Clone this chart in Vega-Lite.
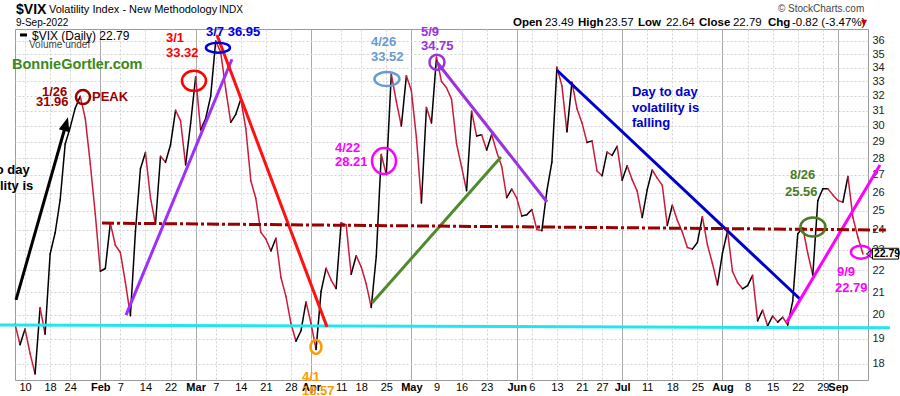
{
  "$schema": "https://vega.github.io/schema/vega-lite/v6.json",
  "width": 853,
  "height": 351,
  "autosize": {"type": "none"},
  "padding": {"left": 15, "top": 29, "right": 32, "bottom": 16},
  "background": "white",
  "config": {
    "view": {"stroke": "#9a9a9a", "strokeWidth": 1},
    "text": {"font": "Liberation Sans"},
    "axis": {"labelFont": "Liberation Sans"}
  },
  "datasets": {
    "vix": [
      {"t":0,"v":19.61},{"t":1,"v":18.76},{"t":2,"v":19.40},{"t":3,"v":18.41},{"t":4,"v":17.62},{"t":5,"v":20.31},{"t":6,"v":19.19},{"t":7,"v":22.79},{"t":8,"v":23.85},{"t":9,"v":25.59},
      {"t":10,"v":28.85},{"t":11,"v":29.90},{"t":12,"v":31.16},{"t":13,"v":31.96},{"t":14,"v":30.49},{"t":15,"v":27.66},{"t":16,"v":24.83},{"t":17,"v":21.96},{"t":18,"v":22.09},{"t":19,"v":24.35},
      {"t":20,"v":23.22},{"t":21,"v":22.86},{"t":22,"v":21.44},{"t":23,"v":19.96},{"t":24,"v":23.91},{"t":25,"v":27.36},{"t":26,"v":28.33},{"t":27,"v":25.70},{"t":28,"v":24.29},{"t":29,"v":28.11},
      {"t":30,"v":27.75},{"t":31,"v":28.81},{"t":32,"v":31.02},{"t":33,"v":30.32},{"t":34,"v":27.59},{"t":35,"v":30.15},{"t":36,"v":33.32},{"t":37,"v":29.74},{"t":38,"v":30.48},{"t":39,"v":31.98},
      {"t":40,"v":36.0},{"t":41,"v":35.13},{"t":42,"v":32.45},{"t":43,"v":30.23},{"t":44,"v":30.75},{"t":45,"v":31.77},{"t":46,"v":29.83},{"t":47,"v":26.67},{"t":48,"v":25.67},{"t":49,"v":23.87},
      {"t":50,"v":23.53},{"t":51,"v":22.94},{"t":52,"v":23.57},{"t":53,"v":21.67},{"t":54,"v":20.81},{"t":55,"v":19.63},{"t":56,"v":18.90},{"t":57,"v":19.33},{"t":58,"v":20.56},{"t":59,"v":19.63},
      {"t":60,"v":18.57},{"t":61,"v":21.03},{"t":62,"v":22.10},{"t":63,"v":21.55},{"t":64,"v":21.16},{"t":65,"v":24.37},{"t":66,"v":24.26},{"t":67,"v":21.82},{"t":68,"v":22.70},{"t":69,"v":22.17},
      {"t":70,"v":21.37},{"t":71,"v":20.32},{"t":72,"v":22.68},{"t":73,"v":28.21},{"t":74,"v":27.02},{"t":75,"v":33.52},{"t":76,"v":31.60},{"t":77,"v":29.99},{"t":78,"v":33.40},{"t":79,"v":32.34},
      {"t":80,"v":29.25},{"t":81,"v":25.42},{"t":82,"v":31.20},{"t":83,"v":30.19},{"t":84,"v":34.75},{"t":85,"v":32.99},{"t":86,"v":32.56},{"t":87,"v":31.77},{"t":88,"v":28.87},{"t":89,"v":27.47},
      {"t":90,"v":26.10},{"t":91,"v":30.96},{"t":92,"v":29.35},{"t":93,"v":29.43},{"t":94,"v":28.48},{"t":95,"v":29.45},{"t":96,"v":28.37},{"t":97,"v":27.50},{"t":98,"v":25.72},{"t":99,"v":26.19},
      {"t":100,"v":25.69},{"t":101,"v":24.72},{"t":102,"v":24.79},{"t":103,"v":25.07},{"t":104,"v":24.02},{"t":105,"v":23.96},{"t":106,"v":26.09},{"t":107,"v":27.75},{"t":108,"v":34.02},{"t":109,"v":32.69},
      {"t":110,"v":29.62},{"t":111,"v":32.95},{"t":112,"v":31.13},{"t":113,"v":30.19},{"t":114,"v":28.95},{"t":115,"v":29.05},{"t":116,"v":27.23},{"t":117,"v":26.95},{"t":118,"v":28.36},{"t":119,"v":28.16},
      {"t":120,"v":28.71},{"t":121,"v":26.70},{"t":122,"v":27.54},{"t":123,"v":26.73},{"t":124,"v":26.08},{"t":125,"v":24.64},{"t":126,"v":26.17},{"t":127,"v":27.29},{"t":128,"v":26.82},{"t":129,"v":26.40},
      {"t":130,"v":24.23},{"t":131,"v":25.30},{"t":132,"v":24.50},{"t":133,"v":23.88},{"t":134,"v":23.11},{"t":135,"v":23.03},{"t":136,"v":23.36},{"t":137,"v":24.69},{"t":138,"v":23.24},{"t":139,"v":22.33},
      {"t":140,"v":21.33},{"t":141,"v":22.84},{"t":142,"v":23.93},{"t":143,"v":21.95},{"t":144,"v":21.44},{"t":145,"v":21.15},{"t":146,"v":21.29},{"t":147,"v":21.77},{"t":148,"v":19.74},{"t":149,"v":20.20},
      {"t":150,"v":19.53},{"t":151,"v":19.95},{"t":152,"v":19.69},{"t":153,"v":19.90},{"t":154,"v":19.56},{"t":155,"v":20.60},{"t":156,"v":23.80},{"t":157,"v":24.11},{"t":158,"v":22.82},{"t":159,"v":21.78},
      {"t":160,"v":25.56},{"t":161,"v":26.21},{"t":162,"v":26.21},{"t":163,"v":25.87},{"t":164,"v":25.56},{"t":165,"v":25.47},{"t":166,"v":26.91},{"t":167,"v":24.64},{"t":168,"v":23.61},{"t":169,"v":22.79}
    ],
    "lines": [
      {"k":"support","t":-2.99,"v":19.57,"t2":174.37,"v2":19.45},
      {"k":"rise","t":0.2,"v":20.65,"t2":10.06,"v2":29.99},
      {"k":"purple","t":22.12,"v":19.99,"t2":43.24,"v2":34.61},
      {"k":"redline","t":40.26,"v":36.46,"t2":62.18,"v2":19.49},
      {"k":"green","t":71.14,"v":20.51,"t2":96.85,"v2":28.06},
      {"k":"may9","t":84.10,"v":34.39,"t2":106.02,"v2":25.48},
      {"k":"fall","t":108.01,"v":33.80,"t2":156.44,"v2":20.69},
      {"k":"sep9","t":153.85,"v":19.70,"t2":172.38,"v2":27.58},
      {"k":"rise","t":1.0,"v":36.46,"t2":2.39,"v2":36.46}
    ],
    "resist": [
      {"k":"resist","t":17.34,"v":24.35,"t2":173.57,"v2":23.99}
    ],
    "rings": [
      {"k":"jan26","t":13.55,"v":31.91},
      {"k":"mar1","t":35.67,"v":33.04},
      {"k":"mar7","t":40.45,"v":35.48},
      {"k":"apr1","t":59.98,"v":18.67},
      {"k":"apr22","t":73.54,"v":27.82},
      {"k":"apr26","t":74.13,"v":33.17},
      {"k":"may9","t":84.10,"v":34.39},
      {"k":"aug26","t":159.03,"v":24.15},
      {"k":"sep9","t":168.59,"v":22.88}
    ],
    "heads": [{"k":"rise","t":10.06,"v":29.99}],
    "marker": [{"t":170.28,"v":22.79}],
    "tag": [{"t":170.9,"t2":176.1,"v":22.54,"v2":23.07}],
    "notes": [
      {"k":"jan26","t":5.38,"v":32.29,"txt":"1/26"},
      {"k":"jan26","t":4.18,"v":31.57,"txt":"31.96"},
      {"k":"jan26","t":15.34,"v":31.91,"txt":"PEAK"},
      {"k":"mar1","t":30.09,"v":36.21,"txt":"3/1"},
      {"k":"mar1","t":30.09,"v":35.06,"txt":"33.32"},
      {"k":"mar7","t":38.06,"v":36.72,"txt":"3/7 36.95"},
      {"k":"apr26","t":70.94,"v":35.90,"txt":"4/26"},
      {"k":"apr26","t":70.94,"v":34.80,"txt":"33.52"},
      {"k":"may9","t":80.91,"v":36.72,"txt":"5/9"},
      {"k":"may9","t":80.91,"v":35.63,"txt":"34.75"},
      {"k":"apr22","t":63.77,"v":28.63,"txt":"4/22"},
      {"k":"apr22","t":63.77,"v":27.76,"txt":"28.21"},
      {"k":"fall","t":122.96,"v":32.25,"txt":"Day to day"},
      {"k":"fall","t":122.96,"v":31.20,"txt":"volatility is"},
      {"k":"fall","t":122.96,"v":30.21,"txt":"falling"},
      {"k":"aug26","t":154.44,"v":26.99,"txt":"8/26"},
      {"k":"aug26","t":153.45,"v":26.03,"txt":"25.56"},
      {"k":"sep9","t":163.81,"v":21.93,"txt":"9/9"},
      {"k":"sep9","t":163.41,"v":21.19,"txt":"22.79"},
      {"k":"apr1","t":57.19,"v":17.51,"txt":"4/1"},
      {"k":"apr1","t":57.19,"v":16.99,"txt":"18.57"},
      {"k":"rise","t":-10.16,"v":27.28,"txt":"Day to day"},
      {"k":"rise","t":-9.76,"v":26.37,"txt":"volatility is"}
    ],
    "hdr": [
      {"role":"sym","t":0.2,"v":38.49,"txt":"$VIX"},
      {"role":"name","t":6.78,"v":38.47,"txt":"Volatility Index - New Methodology"},
      {"role":"exch","t":40.65,"v":38.45,"txt":"INDX"},
      {"role":"date","t":0.2,"v":37.39,"txt":"9-Sep-2022"},
      {"role":"copy","t":152.05,"v":38.53,"txt":"© StockCharts.com"},
      {"role":"lbl","t":99.24,"v":37.43,"txt":"Open"},
      {"role":"num","t":105.62,"v":37.43,"txt":"23.49"},
      {"role":"lbl","t":112.20,"v":37.43,"txt":"High"},
      {"role":"num","t":117.58,"v":37.43,"txt":"23.57"},
      {"role":"lbl","t":124.15,"v":37.43,"txt":"Low"},
      {"role":"num","t":129.73,"v":37.43,"txt":"22.64"},
      {"role":"lbl","t":136.31,"v":37.43,"txt":"Close"},
      {"role":"num","t":143.08,"v":37.43,"txt":"22.79"},
      {"role":"lbl","t":150.06,"v":37.43,"txt":"Chg"},
      {"role":"num","t":154.84,"v":37.43,"txt":"-0.82 (-3.47%)"},
      {"role":"tri","t":168.6,"v":37.43,"txt":"▼"},
      {"role":"legend","t":3.39,"v":36.41,"txt":"$VIX (Daily) 22.79"},
      {"role":"vol","t":2.79,"v":35.67,"txt":"Volume undef"},
      {"role":"brand","t":-0.60,"v":34.21,"txt":"BonnieGortler.com"},
      {"role":"tag","t":171.18,"v":22.79,"txt":"22.79"}
    ]
  },
  "encoding": {
    "x": {
      "field": "t", "type": "quantitative",
      "scale": {"domain": [0, 170], "nice": false, "zero": false},
      "axis": {
        "title": null,
        "values": [2,7,11,17,21,26,31,36,40,45,50,55,59,65,69,74,79,84,89,94,100,103,108,113,117,121,126,131,136,141,146,151,156,161,164],
        "labelExpr": "['10','18','24','Feb','7','14','22','Mar','7','14','21','28','Apr','11','18','25','May','9','16','23','Jun','6','13','21','27','Jul','11','18','25','Aug','8','15','22','29','Sep'][indexof([2,7,11,17,21,26,31,36,40,45,50,55,59,65,69,74,79,84,89,94,100,103,108,113,117,121,126,131,136,141,146,151,156,161,164], datum.value)]",
        "labelFontWeight": {"condition": {"test": "indexof([17,36,59,79,100,121,141,164], datum.value) >= 0", "value": "bold"}, "value": "normal"},
        "gridColor": {"condition": {"test": "indexof([17,36,59,79,100,121,141,164], datum.value) >= 0", "value": "#aaaaaa"}, "value": "#d2d2d2"},
        "gridDash": {"condition": {"test": "indexof([17,36,59,79,100,121,141,164], datum.value) >= 0", "value": []}, "value": [2, 2]},
        "grid": true, "ticks": false, "domain": false,
        "labelFontSize": 11, "labelColor": "#000000", "labelPadding": 1,
        "labelOverlap": false, "labelFlush": false, "labelBound": false
      }
    },
    "y": {
      "field": "v", "type": "quantitative",
      "scale": {"type": "log", "domain": [17.39, 36.93], "nice": false},
      "axis": {
        "title": null, "orient": "right",
        "values": [18,19,20,21,22,23,24,25,26,27,28,29,30,31,32,33,34,35,36],
        "grid": true, "gridColor": "#d2d2d2", "gridDash": [2, 2],
        "ticks": false, "domain": false,
        "labelFontSize": 11, "labelColor": "#222222", "labelPadding": 4,
        "labelOverlap": false, "labelFlush": false, "labelBound": false
      }
    }
  },
  "layer": [
    {
      "data": {"name": "vix"},
      "transform": [
        {"window": [{"op": "lead", "field": "t", "as": "t2"}, {"op": "lead", "field": "v", "as": "v2"}], "sort": [{"field": "t"}]},
        {"filter": "datum.t2 != null"}
      ],
      "mark": {"type": "rule", "strokeWidth": 1.5, "strokeCap": "round"},
      "encoding": {
        "x2": {"field": "t2"},
        "y2": {"field": "v2"},
        "color": {"condition": {"test": "datum.v2 >= datum.v", "value": "#000000"}, "value": "#cc1a3a"}
      }
    },
    {
      "data": {"name": "lines"},
      "mark": {"type": "rule", "strokeWidth": 3, "clip": false},
      "encoding": {
        "x2": {"field": "t2"},
        "y2": {"field": "v2"},
        "color": {"field": "k", "type": "nominal", "legend": null,
          "scale": {"domain": ["jan26","mar1","mar7","apr1","apr22","apr26","may9","aug26","sep9","fall","rise","support","resist","purple","green","redline"],
                    "range": ["#990000","#ff0000","#0000dd","#ff9900","#ff00ff","#6a9bd0","#9a32e0","#4a7c23","#ff00ff","#0000cc","#000000","#22e6ee","#990000","#9b30ff","#4f8a2c","#ff1111"]}}
      }
    },
    {
      "data": {"name": "resist"},
      "mark": {"type": "rule", "strokeWidth": 3, "strokeDash": [12, 3, 3, 3], "clip": false},
      "encoding": {
        "x2": {"field": "t2"},
        "y2": {"field": "v2"},
        "color": {"field": "k", "type": "nominal", "legend": null,
          "scale": {"domain": ["jan26","mar1","mar7","apr1","apr22","apr26","may9","aug26","sep9","fall","rise","support","resist","purple","green","redline"],
                    "range": ["#990000","#ff0000","#0000dd","#ff9900","#ff00ff","#6a9bd0","#9a32e0","#4a7c23","#ff00ff","#0000cc","#000000","#22e6ee","#990000","#9b30ff","#4f8a2c","#ff1111"]}}
      }
    },
    {
      "data": {"name": "heads"},
      "mark": {"type": "point", "filled": true, "shape": "M0,-9L5.5,5L-5.5,5Z", "size": 4, "angle": 16, "color": "#000000", "opacity": 1, "clip": false},
      "encoding": {}
    },
    {
      "data": {"name": "rings"},
      "mark": {"type": "point", "filled": false, "size": 4, "strokeWidth": 2.5, "opacity": 1, "clip": false},
      "encoding": {
        "shape": {"field": "k", "type": "nominal", "legend": null,
          "scale": {"domain": ["jan26","mar1","mar7","apr1","apr22","apr26","may9","aug26","sep9"],
                    "range": [
                      "M7,0C7,3.87 3.87,7 0,7C-3.87,7 -7,3.87 -7,0C-7,-3.87 -3.87,-7 0,-7C3.87,-7 7,-3.87 7,0Z",
                      "M12,0C12,5.52 6.63,10 0,10C-6.63,10 -12,5.52 -12,0C-12,-5.52 -6.63,-10 0,-10C6.63,-10 12,-5.52 12,0Z",
                      "M12,0C12,2.76 6.63,5 0,5C-6.63,5 -12,2.76 -12,0C-12,-2.76 -6.63,-5 0,-5C6.63,-5 12,-2.76 12,0Z",
                      "M5.5,0C5.5,3.87 3.04,7 0,7C-3.04,7 -5.5,3.87 -5.5,0C-5.5,-3.87 -3.04,-7 0,-7C3.04,-7 5.5,-3.87 5.5,0Z",
                      "M12,0C12,7.18 6.63,13 0,13C-6.63,13 -12,7.18 -12,0C-12,-7.18 -6.63,-13 0,-13C6.63,-13 12,-7.18 12,0Z",
                      "M12.5,0C12.5,3.87 6.9,7 0,7C-6.9,7 -12.5,3.87 -12.5,0C-12.5,-3.87 -6.9,-7 0,-7C6.9,-7 12.5,-3.87 12.5,0Z",
                      "M7.5,0C7.5,4.14 4.14,7.5 0,7.5C-4.14,7.5 -7.5,4.14 -7.5,0C-7.5,-4.14 -4.14,-7.5 0,-7.5C4.14,-7.5 7.5,-4.14 7.5,0Z",
                      "M12.5,0C12.5,5.25 6.9,9.5 0,9.5C-6.9,9.5 -12.5,5.25 -12.5,0C-12.5,-5.25 -6.9,-9.5 0,-9.5C6.9,-9.5 12.5,-5.25 12.5,0Z",
                      "M10,0C10,3.59 5.52,6.5 0,6.5C-5.52,6.5 -10,3.59 -10,0C-10,-3.59 -5.52,-6.5 0,-6.5C5.52,-6.5 10,-3.59 10,0Z"
                    ]}},
        "color": {"field": "k", "type": "nominal", "legend": null,
          "scale": {"domain": ["jan26","mar1","mar7","apr1","apr22","apr26","may9","aug26","sep9","fall","rise","support","resist","purple","green","redline"],
                    "range": ["#990000","#ff0000","#0000dd","#ff9900","#ff00ff","#6a9bd0","#9a32e0","#4a7c23","#ff00ff","#0000cc","#000000","#22e6ee","#990000","#9b30ff","#4f8a2c","#ff1111"]}}
      }
    },
    {
      "data": {"name": "notes"},
      "mark": {"type": "text", "align": "left", "baseline": "middle", "fontSize": 13, "fontWeight": "bold", "clip": false},
      "encoding": {
        "text": {"field": "txt"},
        "color": {"field": "k", "type": "nominal", "legend": null,
          "scale": {"domain": ["jan26","mar1","mar7","apr1","apr22","apr26","may9","aug26","sep9","fall","rise","support","resist","purple","green","redline"],
                    "range": ["#990000","#ff0000","#0000dd","#ff9900","#ff00ff","#6a9bd0","#9a32e0","#4a7c23","#ff00ff","#0000cc","#000000","#22e6ee","#990000","#9b30ff","#4f8a2c","#ff1111"]}}
      }
    },
    {
      "data": {"name": "tag"},
      "mark": {"type": "rect", "fill": "#ffffff", "stroke": "#000000", "strokeWidth": 1, "clip": false},
      "encoding": {"x2": {"field": "t2"}, "y2": {"field": "v2"}}
    },
    {
      "data": {"name": "marker"},
      "mark": {"type": "point", "filled": false, "shape": "M3,-4.5L-3,0L3,4.5", "size": 4, "strokeWidth": 1, "color": "#000000", "opacity": 1, "clip": false},
      "encoding": {}
    },
    {
      "data": {"name": "hdr"},
      "transform": [{"filter": "datum.role == 'sym'"}],
      "mark": {"type": "text", "align": "left", "baseline": "middle", "fontSize": 14, "fontWeight": "bold", "color": "#000000", "clip": false},
      "encoding": {"text": {"field": "txt"}}
    },
    {
      "data": {"name": "hdr"},
      "transform": [{"filter": "datum.role == 'name'"}],
      "mark": {"type": "text", "align": "left", "baseline": "middle", "fontSize": 11, "color": "#000000", "clip": false},
      "encoding": {"text": {"field": "txt"}}
    },
    {
      "data": {"name": "hdr"},
      "transform": [{"filter": "datum.role == 'exch' || datum.role == 'date'"}],
      "mark": {"type": "text", "align": "left", "baseline": "middle", "fontSize": 10, "color": "#000000", "clip": false},
      "encoding": {"text": {"field": "txt"}}
    },
    {
      "data": {"name": "hdr"},
      "transform": [{"filter": "datum.role == 'copy' || datum.role == 'vol'"}],
      "mark": {"type": "text", "align": "left", "baseline": "middle", "fontSize": 10, "color": "#444444", "clip": false},
      "encoding": {"text": {"field": "txt"}}
    },
    {
      "data": {"name": "hdr"},
      "transform": [{"filter": "datum.role == 'lbl'"}],
      "mark": {"type": "text", "align": "left", "baseline": "middle", "fontSize": 11.5, "fontWeight": "bold", "color": "#000000", "clip": false},
      "encoding": {"text": {"field": "txt"}}
    },
    {
      "data": {"name": "hdr"},
      "transform": [{"filter": "datum.role == 'num'"}],
      "mark": {"type": "text", "align": "left", "baseline": "middle", "fontSize": 11.5, "color": "#000000", "clip": false},
      "encoding": {"text": {"field": "txt"}}
    },
    {
      "data": {"name": "hdr"},
      "transform": [{"filter": "datum.role == 'tri'"}],
      "mark": {"type": "text", "align": "left", "baseline": "middle", "fontSize": 8, "font": "DejaVu Sans", "color": "#cc0000", "clip": false},
      "encoding": {"text": {"field": "txt"}}
    },
    {
      "data": {"name": "hdr"},
      "transform": [{"filter": "datum.role == 'legend'"}],
      "mark": {"type": "text", "align": "left", "baseline": "middle", "fontSize": 12, "color": "#000000", "clip": false},
      "encoding": {"text": {"field": "txt"}}
    },
    {
      "data": {"name": "hdr"},
      "transform": [{"filter": "datum.role == 'brand'"}],
      "mark": {"type": "text", "align": "left", "baseline": "middle", "fontSize": 14.5, "fontWeight": "bold", "color": "#3a8a1a", "clip": false},
      "encoding": {"text": {"field": "txt"}}
    },
    {
      "data": {"name": "hdr"},
      "transform": [{"filter": "datum.role == 'tag'"}],
      "mark": {"type": "text", "align": "left", "baseline": "middle", "fontSize": 10.5, "fontWeight": "bold", "color": "#000000", "clip": false},
      "encoding": {"text": {"field": "txt"}}
    }
  ]
}
